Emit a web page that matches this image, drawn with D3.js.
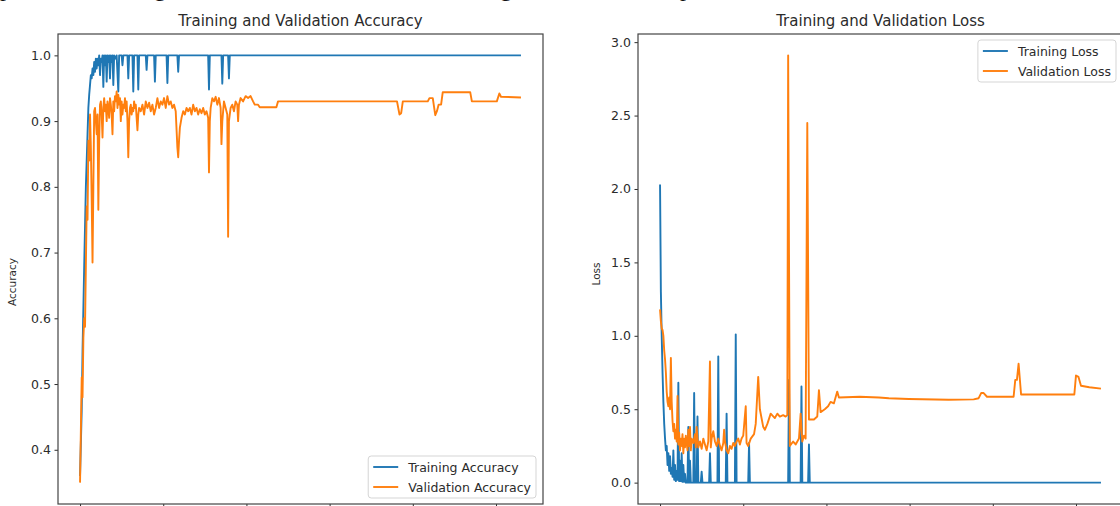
<!DOCTYPE html>
<html>
<head>
<meta charset="utf-8">
<script src="https://cdn.jsdelivr.net/npm/d3@7"></script>
<style>
  html, body { margin: 0; padding: 0; background: #fff; overflow: hidden; }
  svg { display: block; }
</style>
</head>
<body>
<div id="vis"></div>
<script>
// values, as [epoch, value]
var trainAcc = [[0,0.36],[2,0.46],[3,0.55],[5,0.68],[7,0.8],[9,0.88],[10,0.92],[11,0.94],[12,0.955],[13,0.97],[14,0.965],[15,0.98],[16,0.97],[17,0.99],[18,0.975],[19,0.995],[20,0.98],[21,0.995],[22,0.985],[23,1.0],[24,0.97],[25,0.995],[26,0.99],[27,1.0],[28,0.952],[29,1.0],[30,0.985],[31,1.0],[32,0.96],[33,1.0],[34,0.99],[35,1.0],[36,0.965],[37,1.0],[38,0.99],[39,1.0],[40,0.955],[41,1.0],[43,0.995],[44,1.0],[46,0.945],[47,1.0],[50,1.0],[51,0.985],[52,1.0],[57,1.0],[58,0.965],[59,1.0],[63,1.0],[64,0.945],[65,1.0],[69,1.0],[70,0.948],[71,1.0],[79,1.0],[80,0.978],[81,1.0],[89,1.0],[90,0.96],[91,1.0],[104,1.0],[105,0.958],[106,1.0],[117,1.0],[118,0.975],[119,1.0],[154,1.0],[155,0.948],[156,1.0],[170,1.0],[171,0.957],[172,1.0],[178,1.0],[179,0.965],[180,1.0],[530,1.0]];

var valAcc = [[0,0.35],[1,0.43],[2,0.51],[3,0.48],[4,0.57],[5,0.6],[6,0.587],[7,0.68],[8,0.77],[9,0.75],[10,0.87],[11,0.84],[12,0.91],[13,0.86],[14,0.78],[15,0.685],[16,0.8],[17,0.915],[18,0.92],[19,0.9],[20,0.88],[21,0.91],[22,0.765],[23,0.87],[24,0.925],[25,0.93],[26,0.91],[27,0.875],[28,0.92],[29,0.935],[30,0.915],[31,0.925],[32,0.9],[33,0.93],[34,0.92],[35,0.905],[36,0.935],[37,0.925],[38,0.91],[39,0.88],[40,0.93],[41,0.915],[42,0.938],[43,0.93],[44,0.945],[45,0.92],[46,0.94],[47,0.925],[48,0.935],[49,0.9],[50,0.93],[51,0.91],[52,0.925],[53,0.92],[54,0.935],[55,0.915],[56,0.93],[57,0.9],[58,0.845],[59,0.9],[60,0.92],[61,0.925],[62,0.91],[63,0.92],[64,0.915],[65,0.93],[66,0.92],[67,0.925],[68,0.905],[69,0.886],[70,0.91],[71,0.92],[73,0.915],[75,0.925],[77,0.91],[79,0.93],[81,0.92],[83,0.928],[85,0.915],[87,0.925],[89,0.91],[91,0.92],[93,0.935],[95,0.92],[97,0.93],[99,0.925],[101,0.935],[103,0.92],[105,0.938],[107,0.925],[109,0.93],[111,0.92],[113,0.925],[115,0.915],[117,0.86],[118,0.845],[119,0.87],[120,0.89],[122,0.905],[124,0.915],[126,0.91],[128,0.92],[130,0.915],[132,0.92],[134,0.91],[136,0.925],[138,0.915],[140,0.92],[142,0.91],[144,0.918],[146,0.912],[148,0.92],[150,0.91],[152,0.915],[154,0.905],[155,0.822],[156,0.9],[157,0.92],[159,0.935],[161,0.93],[163,0.937],[165,0.925],[167,0.935],[169,0.92],[170,0.865],[171,0.9],[173,0.93],[175,0.92],[177,0.91],[178,0.724],[179,0.9],[181,0.92],[183,0.925],[185,0.915],[187,0.93],[189,0.925],[190,0.9],[191,0.925],[193,0.935],[196,0.93],[199,0.938],[202,0.935],[205,0.938],[208,0.93],[210,0.925],[214,0.925],[216,0.921],[236,0.921],[238,0.93],[381,0.93],[384,0.91],[386,0.912],[388,0.93],[418,0.93],[420,0.935],[424,0.935],[427,0.909],[429,0.915],[431,0.925],[434,0.925],[436,0.944],[469,0.944],[471,0.93],[501,0.93],[504,0.942],[506,0.937],[530,0.936]];

var trainLoss = [[0,2.03],[1,1.3],[2,1.0],[3,0.75],[4,0.55],[5,0.4],[6,0.3],[7,0.22],[8,0.25],[9,0.12],[10,0.2],[11,0.08],[12,0.18],[13,0.06],[14,0.1],[15,0.04],[16,0.22],[17,0.02],[18,0.12],[19,0.01],[20,0.08],[21,0.02],[22,0.68],[23,0.01],[24,0.15],[25,0.01],[26,0.2],[27,0.005],[28,0.12],[29,0.005],[30,0.06],[31,0],[33,0],[34,0.38],[35,0],[36,0.15],[37,0],[40,0],[41,0.61],[42,0],[44,0],[45,0.45],[46,0],[49,0],[50,0.075],[51,0],[59,0],[60,0.2],[61,0],[69,0],[70,0.86],[71,0],[79,0],[80,0.47],[81,0],[90,0],[91,1.01],[92,0],[106,0],[107,0.27],[108,0],[154,0],[155,0.7],[156,0],[169,0],[170,0.655],[171,0],[178,0],[179,0.26],[180,0],[530,0]];

var valLoss = [[0,1.18],[1,1.1],[2,1.05],[3,1.04],[4,1.0],[5,0.9],[6,0.84],[7,0.75],[8,0.62],[9,0.55],[10,0.52],[11,0.58],[12,0.5],[13,0.85],[14,0.55],[15,0.42],[16,0.35],[17,0.4],[18,0.3],[19,0.36],[20,0.28],[21,0.59],[22,0.26],[23,0.34],[24,0.22],[25,0.3],[26,0.25],[27,0.33],[28,0.2],[29,0.3],[30,0.24],[31,0.32],[32,0.27],[33,0.22],[34,0.36],[35,0.25],[36,0.38],[37,0.22],[38,0.3],[40,0.27],[42,0.33],[43,0.24],[44,0.38],[45,0.3],[46,0.24],[48,0.28],[50,0.23],[52,0.3],[54,0.26],[56,0.22],[58,0.28],[60,0.825],[61,0.24],[62,0.3],[64,0.35],[66,0.28],[68,0.25],[70,0.3],[72,0.25],[74,0.22],[76,0.27],[77,0.36],[78,0.28],[80,0.22],[82,0.2],[84,0.25],[86,0.23],[88,0.27],[90,0.25],[92,0.28],[94,0.3],[96,0.26],[98,0.3],[100,0.32],[103,0.52],[104,0.27],[106,0.25],[109,0.3],[113,0.33],[115,0.4],[118,0.72],[120,0.5],[124,0.38],[126,0.36],[129,0.4],[133,0.47],[138,0.44],[141,0.47],[144,0.45],[148,0.46],[151,0.45],[153,0.46],[154,2.91],[156,0.25],[160,0.28],[163,0.26],[167,0.3],[169,0.47],[171,0.28],[173,0.32],[175,0.3],[177,2.45],[179,0.43],[185,0.43],[189,0.45],[191,0.63],[193,0.48],[198,0.5],[202,0.52],[205,0.55],[209,0.54],[213,0.62],[215,0.58],[240,0.585],[263,0.58],[275,0.575],[299,0.57],[347,0.565],[377,0.567],[383,0.575],[386,0.61],[389,0.61],[393,0.585],[425,0.585],[427,0.7],[429,0.7],[431,0.81],[434,0.6],[498,0.6],[500,0.73],[503,0.72],[506,0.66],[516,0.65],[530,0.64]];

var xTicks = [0, 100, 200, 300, 400, 500];
var accTicks = [0.4, 0.5, 0.6, 0.7, 0.8, 0.9, 1.0];
var lossTicks = [0.0, 0.5, 1.0, 1.5, 2.0, 2.5, 3.0];

// the page text above the figure, cut off by the crop
var bodyText = ['phases of learning', ' are shown in the whole training', ' set and the loss at each ep', 'ochs, which'];

var blue = '#1f77b4';
var orange = '#ff7f0e';
var textColor = '#2b2b2b';
var font = 'DejaVu Sans, sans-serif';

var W = 1120, H = 506;

var svg = d3.select('#vis').append('svg')
  .attr('width', W)
  .attr('height', H);

// only the descenders of that line show at the very top
var bt = svg.append('text')
  .attr('y', -4)
  .attr('font-family', 'Liberation Serif, serif')
  .attr('font-size', 24)
  .attr('fill', '#111');
var segStart = [0, 168, 516, 690];
var segLen = [166, 344, 176, null];
bodyText.forEach(function (s, i) {
  var ts = bt.append('tspan').attr('x', segStart[i]).text(s);
  if (segLen[i]) ts.attr('textLength', segLen[i]).attr('lengthAdjust', 'spacing');
});

// pad a domain by 5% each side, like matplotlib's autoscale
function padded(ext) {
  var m = (ext[1] - ext[0]) * 0.05;
  return [ext[0] - m, ext[1] + m];
}

var panel = function (cfg) {
  var g = svg.append('g')
    .attr('transform', 'translate(' + cfg.left + ',' + cfg.top + ')');

  var allPts = cfg.series[0].data.concat(cfg.series[1].data);

  var x = d3.scaleLinear()
    .domain(padded(d3.extent(allPts, function (d) { return d[0]; })))
    .range([0, cfg.width]);

  var y = d3.scaleLinear()
    .domain(padded(d3.extent(allPts, function (d) { return d[1]; })))
    .range([cfg.height, 0]);

  // axes (x tick labels fall below the crop, so only the marks are kept)
  var yAxis = g.append('g')
    .call(d3.axisLeft(y).tickValues(cfg.yTicks).tickSize(3.5).tickPadding(3.5).tickFormat(d3.format('.1f')));
  var xAxis = g.append('g')
    .attr('transform', 'translate(0,' + cfg.height + ')')
    .call(d3.axisBottom(x).tickValues(xTicks).tickSize(3.5).tickFormat(''));

  [xAxis, yAxis].forEach(function (a) {
    a.select('.domain').remove();
    a.selectAll('line').attr('stroke', textColor).attr('stroke-width', 1);
    a.selectAll('text')
      .attr('fill', textColor)
      .attr('font-family', font)
      .attr('font-size', 12.5);
  });

  // lines
  var line = d3.line()
    .x(function (d) { return x(d[0]); })
    .y(function (d) { return y(d[1]); });

  cfg.series.forEach(function (s) {
    g.append('path')
      .datum(s.data)
      .attr('fill', 'none')
      .attr('stroke', s.color)
      .attr('stroke-width', 1.9)
      .attr('stroke-linejoin', 'round')
      .attr('d', line);
  });

  // frame
  g.append('rect')
    .attr('width', cfg.width)
    .attr('height', cfg.height)
    .attr('fill', 'none')
    .attr('stroke', '#444')
    .attr('stroke-width', 1.2);

  // title
  g.append('text')
    .attr('x', cfg.width / 2)
    .attr('y', -8)
    .attr('text-anchor', 'middle')
    .attr('font-family', font)
    .attr('font-size', 15)
    .attr('fill', textColor)
    .text(cfg.title);

  // y label
  g.append('text')
    .attr('transform', 'translate(' + cfg.ylabelX + ',' + cfg.ylabelY + ') rotate(-90)')
    .attr('text-anchor', 'middle')
    .attr('font-family', font)
    .attr('font-size', 10.5)
    .attr('fill', textColor)
    .text(cfg.ylabel);

  // legend
  var lg = g.append('g');
  var box = lg.append('rect')
    .attr('fill', '#fff')
    .attr('fill-opacity', 0.8)
    .attr('stroke', '#d5d5d5')
    .attr('rx', 3);
  var maxW = 0;
  cfg.series.forEach(function (s, i) {
    lg.append('line')
      .attr('x1', 5).attr('x2', 30)
      .attr('y1', 11 + i * 20).attr('y2', 11 + i * 20)
      .attr('stroke', s.color)
      .attr('stroke-width', 1.9);
    var t = lg.append('text')
      .attr('x', 40)
      .attr('y', 15.5 + i * 20)
      .attr('font-family', font)
      .attr('font-size', 12.5)
      .attr('fill', textColor)
      .text(s.name);
    maxW = Math.max(maxW, t.node().getComputedTextLength());
  });
  var bw = 40 + maxW + 5, bh = 42;
  box.attr('width', bw).attr('height', bh);
  var lx = cfg.width - 7 - bw;
  var ly = cfg.legendTop ? 6 : cfg.height - 6 - bh;
  lg.attr('transform', 'translate(' + lx + ',' + ly + ')');
};

panel({
  left: 58, top: 34, width: 485, height: 470,
  title: 'Training and Validation Accuracy',
  ylabel: 'Accuracy', ylabelX: -42, ylabelY: 248,
  yTicks: accTicks,
  legendTop: false,
  series: [
    { name: 'Training Accuracy', data: trainAcc, color: blue },
    { name: 'Validation Accuracy', data: valAcc, color: orange }
  ]
});

panel({
  left: 638, top: 34, width: 485, height: 470,
  title: 'Training and Validation Loss',
  ylabel: 'Loss', ylabelX: -38, ylabelY: 240,
  yTicks: lossTicks,
  legendTop: true,
  series: [
    { name: 'Training Loss', data: trainLoss, color: blue },
    { name: 'Validation Loss', data: valLoss, color: orange }
  ]
});
</script>
</body>
</html>
